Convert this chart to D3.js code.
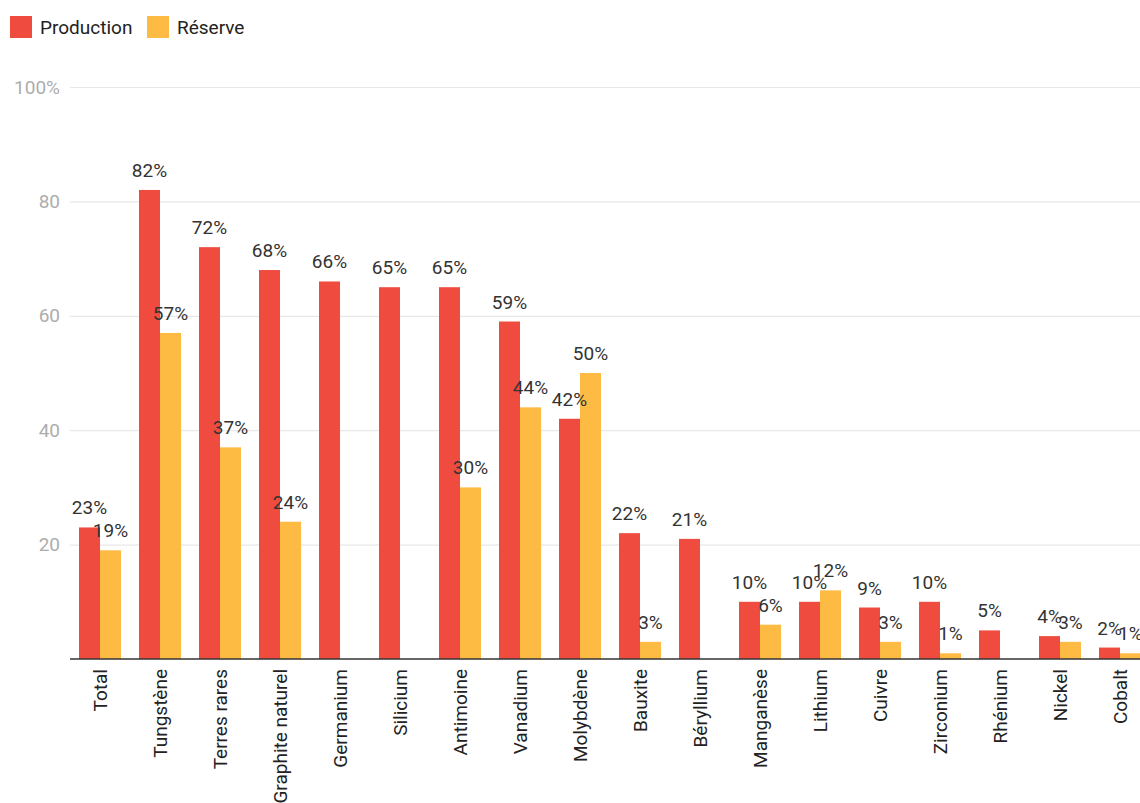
<!DOCTYPE html>
<html>
<head>
<meta charset="utf-8">
<script src="https://cdn.jsdelivr.net/npm/d3@7"></script>
<style>
  html, body { margin: 0; padding: 0; background: #fff; }
  svg { display: block; font-family: Roboto, "Noto Sans", sans-serif; }
</style>
</head>
<body>
<svg id="chart" width="1140" height="803"></svg>
<script>
// Share of China in world production and reserves, by mineral
const categories = ["Total", "Tungstène", "Terres rares", "Graphite naturel", "Germanium",
  "Silicium", "Antimoine", "Vanadium", "Molybdène", "Bauxite", "Béryllium", "Manganèse",
  "Lithium", "Cuivre", "Zirconium", "Rhénium", "Nickel", "Cobalt"];
const production = [23, 82, 72, 68, 66, 65, 65, 59, 42, 22, 21, 10, 10, 9, 10, 5, 4, 2];
const reserve = [19, 57, 37, 24, null, null, 30, 44, 50, 3, null, 6, 12, 3, 1, null, 3, 1];
const seriesNames = ["Production", "Réserve"];
const seriesColors = ["#f04b3f", "#fdbb44"];
const yTicks = [20, 40, 60, 80, 100];

const svg = d3.select("#chart");

const x = d3.scaleBand().domain(categories).range([70, 1150]).paddingInner(0.3).paddingOuter(0.15);
const xs = d3.scaleBand().domain(seriesNames).range([0, x.bandwidth()]);
const y = d3.scaleLinear().domain([0, 100]).range([659, 87]);
const color = d3.scaleOrdinal().domain(seriesNames).range(seriesColors);

// gridlines + y labels
const yAxis = d3.axisLeft(y).tickValues(yTicks).tickSize(-(1140 - 70))
  .tickFormat(d => d === 100 ? d + "%" : d);
const gy = svg.append("g").attr("transform", "translate(70,0)").call(yAxis);
gy.select(".domain").remove();
gy.selectAll(".tick line").attr("stroke", "#e8e8e8").attr("stroke-width", 1.2);
gy.selectAll(".tick text").attr("x", -10).attr("fill", "#adadad")
  .attr("font-size", 19).attr("font-family", "Roboto, sans-serif");

// bars
const rows = categories.map((c, i) => ({ cat: c, vals: [
  { key: "Production", v: production[i] },
  { key: "Réserve", v: reserve[i] }
]}));

const groups = svg.append("g").selectAll("g").data(rows).join("g")
  .attr("transform", d => `translate(${x(d.cat)},0)`);

groups.selectAll("rect").data(d => d.vals.filter(e => e.v != null)).join("rect")
  .attr("x", d => xs(d.key))
  .attr("y", d => y(d.v))
  .attr("width", xs.bandwidth())
  .attr("height", d => y(0) - y(d.v))
  .attr("fill", d => color(d.key));

groups.selectAll("text.val").data(d => d.vals.filter(e => e.v != null)).join("text")
  .attr("class", "val")
  .attr("x", d => xs(d.key) + xs.bandwidth() / 2)
  .attr("y", d => y(d.v) - 13)
  .attr("text-anchor", "middle")
  .attr("font-size", 19)
  .attr("fill", "#333")
  .text(d => d.v + "%");

// x axis baseline + rotated labels
const xAxis = d3.axisBottom(x).tickSize(0).tickPadding(0);
const gx = svg.append("g").attr("transform", `translate(0,${y(0)})`).call(xAxis);
gx.select(".domain").attr("d", "M70,0H1140").attr("stroke", "#333").attr("stroke-width", 1.5);
gx.selectAll(".tick text")
  .attr("transform", "rotate(-90)")
  .attr("x", -10).attr("y", 0).attr("dy", "0.35em")
  .attr("text-anchor", "end")
  .attr("font-size", 19)
  .attr("font-family", "Roboto, sans-serif")
  .attr("fill", "#222");

// legend
const legend = svg.append("g").selectAll("g").data(seriesNames).join("g")
  .attr("transform", (d, i) => `translate(${[10, 147][i]},16)`);
legend.append("rect").attr("width", 22).attr("height", 22).attr("fill", d => color(d));
legend.append("text").attr("x", 30).attr("y", 11).attr("dy", "0.35em")
  .attr("font-size", 19).attr("fill", "#222").text(d => d);
</script>
</body>
</html>
